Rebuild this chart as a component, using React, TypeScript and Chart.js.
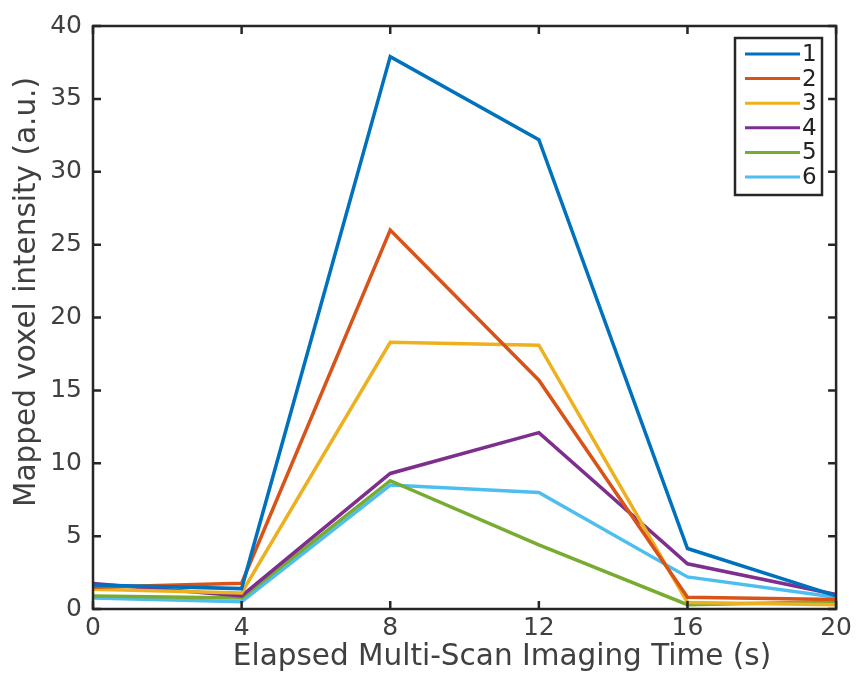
import React, { useEffect, useRef } from "react";
import { Chart, registerables } from "chart.js";

Chart.register(...registerables);

const timePoints = [0, 4, 8, 12, 16, 20];
const seriesLabels = ["1", "2", "3", "4", "5", "6"];
const series1 = [1.64, 1.4, 37.9, 32.2, 4.15, 0.9];
const series2 = [1.5, 1.77, 26.0, 15.7, 0.8, 0.65];
const series3 = [1.35, 1.1, 18.3, 18.1, 0.45, 0.3];
const series4 = [1.75, 0.9, 9.3, 12.1, 3.1, 1.0];
const series5 = [0.9, 0.75, 8.8, 4.4, 0.3, 0.5];
const series6 = [0.75, 0.5, 8.5, 8.0, 2.2, 0.8];
const seriesColors = ["#0072BD", "#D95319", "#EDB120", "#7E2F8E", "#77AC30", "#4DBEEE"];
const xTicks = [0, 4, 8, 12, 16, 20];
const yTicks = [0, 5, 10, 15, 20, 25, 30, 35, 40];
const xTitle = "Elapsed Multi-Scan Imaging Time (s)";
const yTitle = "Mapped voxel intensity (a.u.)";

const AXIS = "#262626";
const TEXT = "#404040";
const FONT = "'DejaVu Sans', 'Liberation Sans', sans-serif";

const boxPlugin = {
  id: "matlabBox",
  afterDatasetsDraw(chart: any) {
    const { ctx, chartArea } = chart;
    const { left, right, top, bottom } = chartArea;
    const xs = chart.scales.x;
    const ys = chart.scales.y;
    ctx.save();
    ctx.strokeStyle = AXIS;
    ctx.lineWidth = 2.5;
    ctx.strokeRect(left, top, right - left, bottom - top);
    const tl = 8;
    ctx.beginPath();
    xTicks.forEach((v) => {
      const px = xs.getPixelForValue(v);
      ctx.moveTo(px, bottom);
      ctx.lineTo(px, bottom - tl);
      ctx.moveTo(px, top);
      ctx.lineTo(px, top + tl);
    });
    yTicks.forEach((v) => {
      const py = ys.getPixelForValue(v);
      ctx.moveTo(left, py);
      ctx.lineTo(left + tl, py);
      ctx.moveTo(right, py);
      ctx.lineTo(right - tl, py);
    });
    ctx.stroke();

    // axis titles
    ctx.fillStyle = TEXT;
    ctx.font = `29.5px ${FONT}`;
    ctx.textAlign = "center";
    ctx.textBaseline = "middle";
    ctx.fillText(xTitle, 502, 657);
    ctx.save();
    ctx.translate(27, 292);
    ctx.rotate(-Math.PI / 2);
    ctx.fillText(yTitle, 0, 0);
    ctx.restore();

    // legend
    const lx = 735, ly = 38, lw = 87, lh = 157;
    ctx.fillStyle = "#ffffff";
    ctx.fillRect(lx, ly, lw, lh);
    ctx.lineWidth = 2.5;
    ctx.strokeStyle = AXIS;
    ctx.strokeRect(lx, ly, lw, lh);
    ctx.font = `23px ${FONT}`;
    ctx.textBaseline = "middle";
    ctx.textAlign = "left";
    chart.data.datasets.forEach((ds: any, i: number) => {
      const y = ly + 16 + i * 24.6;
      ctx.strokeStyle = ds.borderColor;
      ctx.lineWidth = 3;
      ctx.beginPath();
      ctx.moveTo(lx + 10, y);
      ctx.lineTo(lx + 65, y);
      ctx.stroke();
      ctx.fillStyle = "#222222";
      ctx.fillText(ds.label, lx + 67, y + 1);
    });
    ctx.restore();
  },
};

export default function App() {
  const ref = useRef<HTMLCanvasElement>(null);
  useEffect(() => {
    document.body.style.margin = "0";
    const all = [series1, series2, series3, series4, series5, series6];
    const chart = new Chart(ref.current!, {
      type: "line",
      data: {
        datasets: all.map((s, i) => ({
          label: seriesLabels[i],
          data: s.map((v, j) => ({ x: timePoints[j], y: v })),
          borderColor: seriesColors[i],
          backgroundColor: seriesColors[i],
          borderWidth: 3.5,
          pointRadius: 0,
          tension: 0,
          clip: false as any,
        })),
      },
      options: {
        animation: false,
        responsive: false,
        devicePixelRatio: 1,
        layout: { padding: { top: 22, right: 18, left: 0, bottom: 0 } },
        plugins: { legend: { display: false }, tooltip: { enabled: false } },
        scales: {
          x: {
            type: "linear",
            min: 0,
            max: 20,
            afterBuildTicks: (s: any) => {
              s.ticks = xTicks.map((v) => ({ value: v }));
            },
            afterFit: (s: any) => {
              s.height = 68;
            },
            grid: { display: false, drawTicks: false },
            border: { display: false },
            ticks: { color: TEXT, font: { size: 25, family: FONT }, padding: 4, maxRotation: 0 },
            title: { display: false },
          },
          y: {
            type: "linear",
            min: 0,
            max: 40,
            afterBuildTicks: (s: any) => {
              s.ticks = yTicks.map((v) => ({ value: v }));
            },
            afterFit: (s: any) => {
              s.width = 93;
            },
            grid: { display: false, drawTicks: false },
            border: { display: false },
            ticks: { color: TEXT, font: { size: 25, family: FONT }, padding: 11 },
            title: { display: false },
          },
        },
      },
      plugins: [boxPlugin],
    });
    return () => chart.destroy();
  }, []);
  return <canvas ref={ref} width={856} height={677} style={{ display: "block" }} />;
}
